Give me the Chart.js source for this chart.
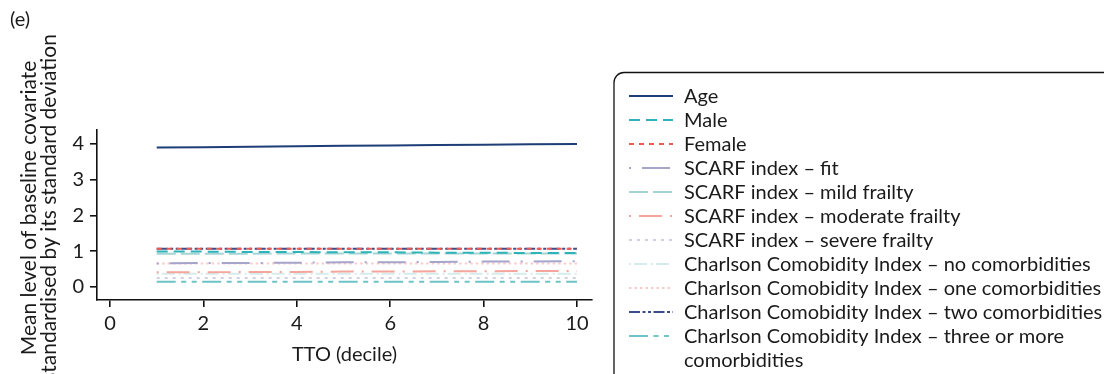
<!DOCTYPE html>
<html>
<head>
<meta charset="utf-8">
<script src="https://cdn.jsdelivr.net/npm/chart.js@4.4.1/dist/chart.umd.min.js"></script>
<style>
  body { margin: 0; background: #fff; }
  #wrap { position: relative; width: 1104px; height: 374px; overflow: hidden; }
  #tag { position: absolute; left: 10px; top: 6px; font: 20px Lato, sans-serif; color: #1a1a1a; }
</style>
</head>
<body>
<div id="wrap">
  <canvas id="chart" width="1104" height="374"></canvas>
  <div id="tag">(e)</div>
</div>
<script>
const deciles = [1, 2, 3, 4, 5, 6, 7, 8, 9, 10];
const xTicks = [0, 2, 4, 6, 8, 10];
const yTicks = [0, 1, 2, 3, 4];

const age = [3.90, 3.91, 3.92, 3.94, 3.95, 3.96, 3.97, 3.98, 3.99, 4.00];
const male = [0.99, 0.99, 0.98, 0.98, 0.97, 0.97, 0.96, 0.96, 0.95, 0.95];
const female = [1.07, 1.07, 1.07, 1.07, 1.07, 1.07, 1.07, 1.07, 1.07, 1.07];
const scarfFit = [0.66, 0.67, 0.67, 0.68, 0.69, 0.69, 0.70, 0.71, 0.71, 0.72];
const scarfMild = [0.93, 0.93, 0.93, 0.94, 0.94, 0.94, 0.94, 0.94, 0.94, 0.94];
const scarfModerate = [0.41, 0.41, 0.42, 0.42, 0.43, 0.43, 0.44, 0.44, 0.45, 0.45];
const scarfSevere = [0.25, 0.25, 0.25, 0.25, 0.25, 0.25, 0.25, 0.25, 0.25, 0.25];
const cciNone = [0.37, 0.37, 0.37, 0.37, 0.37, 0.37, 0.37, 0.37, 0.37, 0.37];
const cciOne = [0.66, 0.66, 0.66, 0.66, 0.66, 0.66, 0.66, 0.66, 0.66, 0.66];
const cciTwo = [1.07, 1.07, 1.07, 1.07, 1.07, 1.07, 1.07, 1.07, 1.07, 1.07];
const cciThree = [0.15, 0.15, 0.15, 0.15, 0.15, 0.15, 0.15, 0.15, 0.15, 0.15];

const yTitle = ["Mean level of baseline covariate", "standardised by its standard deviation"];
const labels = [
  "Age",
  "Male",
  "Female",
  "SCARF index \u2013 fit",
  "SCARF index \u2013 mild frailty",
  "SCARF index \u2013 moderate frailty",
  "SCARF index \u2013 severe frailty",
  "Charlson Comobidity Index \u2013 no comorbidities",
  "Charlson Comobidity Index \u2013 one comorbidities",
  "Charlson Comobidity Index \u2013 two comorbidities",
  ["Charlson Comobidity Index \u2013 three or more", "comorbidities"]
];
const series = [age, male, female, scarfFit, scarfMild, scarfModerate, scarfSevere, cciNone, cciOne, cciTwo, cciThree];
const colors = ["#1d3e76", "#2db3b8", "#ef5b53", "#a5a5cc", "#a5d3d6", "#f4a69c", "#d0d0e4", "#d6ecec", "#f8cccc", "#3d4d8c", "#6cc4c6"];
const dashes = [[], [11, 6], [5, 5], [2, 11, 28, 11], [19, 5], [2, 8, 23, 8], [3, 5], [2, 3, 13, 4], [2.5, 3], [11, 2.5, 3, 2.5, 3, 2.5], [19, 5.5, 5, 5.5, 5, 5.5]];

Chart.defaults.font.family = "Lato, sans-serif";
Chart.defaults.color = "#1a1a1a";

// legend with rounded frame + the two-line y title
const boxLegend = {
  id: "boxLegend",
  afterDraw(chart) {
    const c = chart.ctx;
    c.save();
    c.strokeStyle = "#111";
    c.lineWidth = 1.3;
    c.beginPath();
    c.roundRect(614, 72.5, 520, 340, 10);
    c.stroke();
    c.font = "20px Lato, sans-serif";
    c.fillStyle = "#1a1a1a";
    c.textBaseline = "middle";
    chart.data.datasets.forEach((ds, i) => {
      const y = 96 + i * 24;
      c.strokeStyle = ds.borderColor;
      c.lineWidth = ds.borderWidth;
      c.setLineDash(ds.borderDash || []);
      c.beginPath();
      c.moveTo(629, y);
      c.lineTo(673, y);
      c.stroke();
      const txt = Array.isArray(ds.label) ? ds.label : [ds.label];
      txt.forEach((t, k) => c.fillText(t, 684, y + 1 + k * 23.5));
    });

    c.translate(29, 208);
    c.rotate(-Math.PI / 2);
    c.font = "21px Lato, sans-serif";
    c.textAlign = "center";
    yTitle.forEach((t, k) => c.fillText(t, 0, k * 20));
    c.restore();
  }
};

new Chart(document.getElementById("chart"), {
  type: "line",
  data: {
    labels: deciles,
    datasets: series.map((s, i) => ({
      label: labels[i],
      data: s.map((v, j) => ({ x: deciles[j], y: v })),
      borderColor: colors[i],
      borderDash: dashes[i],
      borderWidth: 2,
      pointRadius: 0,
      fill: false
    }))
  },
  options: {
    responsive: false,
    animation: false,
    devicePixelRatio: 1,
    layout: { padding: { top: 130, right: 512, left: 0, bottom: 0 } },
    plugins: { legend: { display: false }, tooltip: { enabled: false } },
    scales: {
      x: {
        type: "linear",
        min: -0.278,
        max: 10.321,
        afterBuildTicks: (s) => { s.ticks = xTicks.map(v => ({ value: v })); },
        afterFit: (s) => { s.height = 74; },
        border: { display: true, color: "#111", width: 1.6 },
        grid: { drawOnChartArea: false, drawTicks: true, tickLength: 7, tickColor: "#111", lineWidth: 1.6 },
        ticks: { font: { size: 20 }, padding: 5, maxRotation: 0 },
        title: { display: true, text: "TTO (decile)", font: { size: 20 }, padding: { top: 0, bottom: 7 } }
      },
      y: {
        min: -0.364,
        max: 4.392,
        afterBuildTicks: (s) => { s.ticks = yTicks.map(v => ({ value: v })); },
        afterFit: (s) => { s.width = 97; },
        border: { display: true, color: "#111", width: 1.6 },
        grid: { drawOnChartArea: false, drawTicks: true, tickLength: 7, tickColor: "#111", lineWidth: 1.6 },
        ticks: { font: { size: 20 }, padding: 6 }
      }
    }
  },
  plugins: [boxLegend]
});
</script>
</body>
</html>
